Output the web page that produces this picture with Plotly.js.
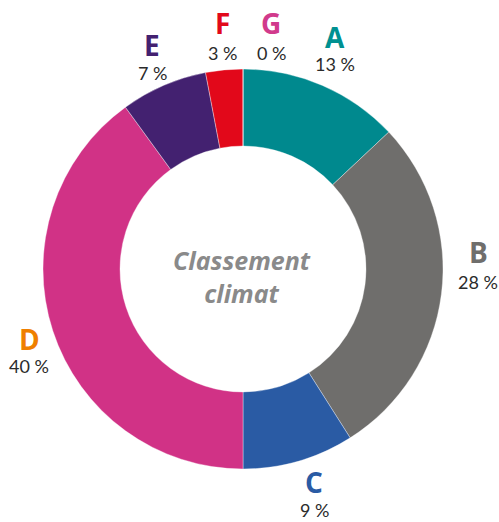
<!DOCTYPE html>
<html>
<head>
<meta charset="utf-8">
<script src="https://cdn.plot.ly/plotly-3.0.1.min.js"></script>
<style>
  html, body { margin: 0; padding: 0; background: #ffffff; }
  #chart { width: 499px; height: 522px; }
</style>
</head>
<body>
<div id="chart"></div>
<script>
// Climate rating classes and their share (%)
const categories = ['A', 'B', 'C', 'D', 'E', 'F', 'G'];
const shares = [13, 28, 9, 40, 7, 3, 0];
const centerTitle = 'Classement<br>climat';

// Slice fills and label colours per class
const sliceColors = ['#00898e', '#6f6e6c', '#2a5ba4', '#d13286', '#432170', '#e2081a', '#d13a8c'];
const labelColors = ['#009191', '#6f6e6c', '#2a5ba4', '#ef7f00', '#432170', '#e2081a', '#d13a8c'];

// Label anchor points (px) around the ring: [x, y letter, y percent]
const labelPos = [
  [335, 37, 64], [478, 252, 282], [314, 482, 510], [29, 339, 366],
  [152, 45, 73], [222, 23, 53], [271, 23, 53]
];

const W = 499, H = 522;
const cx = 243, cy = 269, R = 200;

const annotations = [];
categories.forEach((c, i) => {
  const [lx, ly, py] = labelPos[i];
  annotations.push({
    xref: 'paper', yref: 'paper', x: lx / W, y: 1 - ly / H,
    xanchor: 'center', yanchor: 'middle', showarrow: false,
    text: '<b>' + c + '</b>',
    font: { family: '"Open Sans", sans-serif', size: 28, weight: 800, color: labelColors[i] }
  });
  annotations.push({
    xref: 'paper', yref: 'paper', x: lx / W, y: 1 - py / H,
    xanchor: 'center', yanchor: 'middle', showarrow: false,
    text: shares[i] + ' %',
    font: { family: 'Lato, sans-serif', size: 18, color: '#2b2b2b' }
  });
});
annotations.push({
  xref: 'paper', yref: 'paper', x: 242 / W, y: 1 - 276 / H,
  xanchor: 'center', yanchor: 'middle', showarrow: false,
  text: '<i><b>' + centerTitle + '</b></i>',
  font: { family: '"Open Sans", sans-serif', size: 25, color: '#8a8a8a' }
});

const trace = {
  type: 'pie',
  labels: categories,
  values: shares,
  sort: false,
  direction: 'clockwise',
  rotation: 0,
  hole: 0.615,
  textinfo: 'none',
  hoverinfo: 'label+percent',
  marker: { colors: sliceColors, line: { color: 'rgba(255,255,255,0.6)', width: 0.6 } },
  domain: { x: [(cx - R) / W, (cx + R) / W], y: [1 - (cy + R) / H, 1 - (cy - R) / H] }
};

const layout = {
  width: W, height: H,
  margin: { l: 0, r: 0, t: 0, b: 0 },
  showlegend: false,
  paper_bgcolor: '#ffffff',
  annotations: annotations
};

Plotly.newPlot('chart', [trace], layout, { displayModeBar: false, staticPlot: true });
</script>
</body>
</html>
